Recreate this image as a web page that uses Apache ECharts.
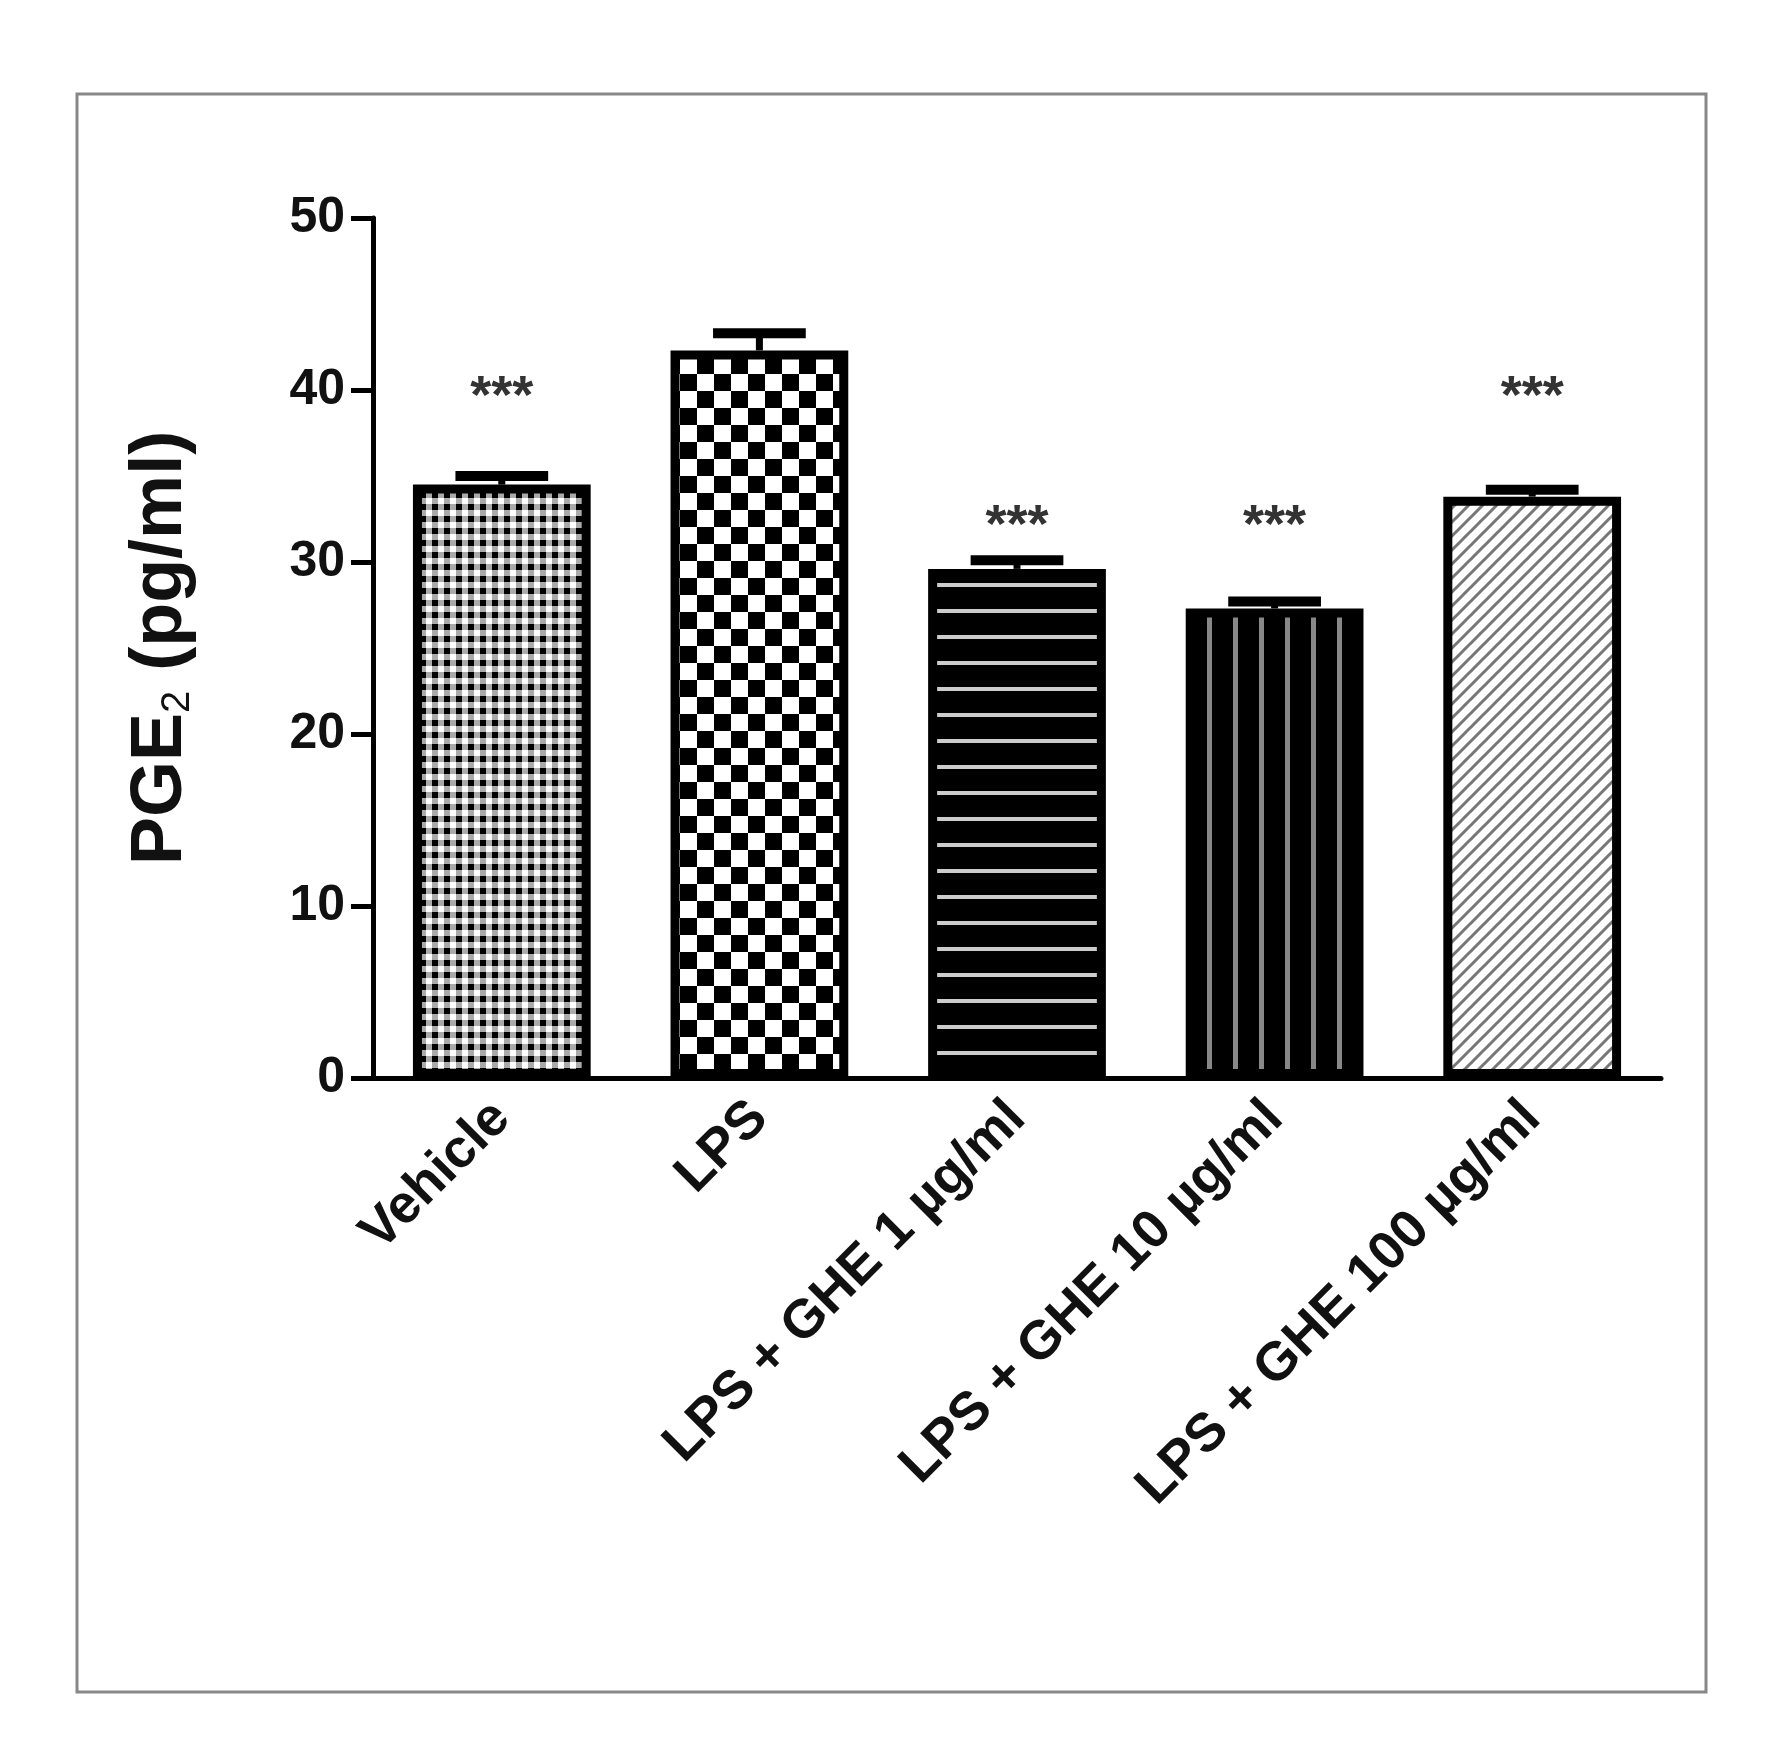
<!DOCTYPE html>
<html>
<head>
<meta charset="utf-8">
<script src="https://cdn.jsdelivr.net/npm/echarts@6/dist/echarts.min.js"></script>
<style>html,body{margin:0;background:#fff}#main{width:1765px;height:1752px}</style>
</head>
<body>
<div id="main"></div>
<script>
var categories = ["Vehicle", "LPS", "LPS + GHE 1 \u00b5g/ml", "LPS + GHE 10 \u00b5g/ml", "LPS + GHE 100 \u00b5g/ml"];
var means = [34.5, 42.3, 29.6, 27.3, 33.8];
var errors = [0.5, 1.0, 0.5, 0.4, 0.4];
var stars = ["***", "", "***", "***", "***"];
var starLevels = [40, 0, 32.5, 32.5, 40];

// 填充图案
function pattern(kind) {
    var c = document.createElement("canvas");
    var ctx = c.getContext("2d");
    if (kind === "fine") {
        c.width = c.height = 12;
        ctx.fillStyle = "#aaa"; ctx.fillRect(0, 0, 12, 12);
        ctx.fillStyle = "#000"; ctx.fillRect(0, 0, 6, 6);
        ctx.fillStyle = "#fff"; ctx.fillRect(6, 6, 6, 6);
    } else if (kind === "checker") {
        c.width = c.height = 34;
        ctx.fillStyle = "#fff"; ctx.fillRect(0, 0, 34, 34);
        ctx.fillStyle = "#000"; ctx.fillRect(0, 0, 17, 17); ctx.fillRect(17, 17, 17, 17);
    } else if (kind === "hlines") {
        c.width = c.height = 26;
        ctx.fillStyle = "#000"; ctx.fillRect(0, 0, 26, 26);
        ctx.fillStyle = "#ccc"; ctx.fillRect(0, 11, 26, 4);
    } else if (kind === "vlines") {
        c.width = c.height = 26;
        ctx.fillStyle = "#000"; ctx.fillRect(0, 0, 26, 26);
        ctx.fillStyle = "#888"; ctx.fillRect(11, 0, 5, 26);
    } else {
        c.width = c.height = 14;
        ctx.fillStyle = "#fff"; ctx.fillRect(0, 0, 14, 14);
        ctx.strokeStyle = "#777"; ctx.lineWidth = 3;
        ctx.beginPath();
        ctx.moveTo(-2, 16); ctx.lineTo(16, -2);
        ctx.moveTo(-9, 9); ctx.lineTo(9, -9);
        ctx.moveTo(5, 23); ctx.lineTo(23, 5);
        ctx.stroke();
    }
    return { image: c, repeat: "repeat" };
}
var fills = ["fine", "checker", "hlines", "vlines", "diag"];

var chart = echarts.init(document.getElementById("main"));
chart.setOption({
    animation: false,
    backgroundColor: "#fff",
    graphic: [{
        type: "rect", shape: { x: 77, y: 94, width: 1629, height: 1598 },
        style: { fill: "none", stroke: "#888", lineWidth: 3 }
    }],
    grid: { left: 373, right: 104, top: 218, bottom: 674, containLabel: false },
    xAxis: {
        type: "category",
        data: categories,
        axisLine: { lineStyle: { color: "#000", width: 5 } },
        axisTick: { alignWithLabel: true, length: 18, lineStyle: { color: "#000", width: 5 } },
        axisLabel: {
            rotate: 45, interval: 0, margin: 32,
            fontFamily: "Liberation Sans, Arial", fontWeight: "bold", fontSize: 54, color: "#111"
        }
    },
    yAxis: {
        type: "value", min: 0, max: 50, interval: 10,
        splitLine: { show: false },
        axisLine: { show: true, lineStyle: { color: "#000", width: 5 } },
        axisTick: { show: true, length: 22, lineStyle: { color: "#000", width: 5 } },
        axisLabel: { fontFamily: "Liberation Sans, Arial", fontWeight: "bold", fontSize: 50, color: "#111", margin: 28 },
        name: "{a|PGE}{s|2}{a| (pg/ml)}",
        nameLocation: "middle", nameGap: 175, nameRotate: 90,
        nameTextStyle: {
            rich: {
                a: { fontFamily: "Liberation Sans, Arial", fontWeight: "bold", fontSize: 72, color: "#111" },
                s: { fontFamily: "Liberation Sans, Arial", fontSize: 40, color: "#111", verticalAlign: "bottom", padding: [34, 0, 0, 0] }
            }
        }
    },
    series: [
        {
            type: "bar",
            barWidth: "69%",
            data: means.map(function (v, i) {
                return { value: v, itemStyle: { color: pattern(fills[i]), borderColor: "#000", borderWidth: 9 } };
            })
        },
        {
            type: "custom",
            data: means.map(function (v, i) { return [i, v, errors[i]]; }),
            renderItem: function (params, api) {
                var top = api.coord([api.value(0), api.value(1) + api.value(2)]);
                var base = api.coord([api.value(0), api.value(1)]);
                var hw = api.size([1, 0])[0] * 0.18;
                return {
                    type: "group",
                    children: [
                        { type: "line", shape: { x1: top[0], y1: top[1], x2: top[0], y2: base[1] }, style: { stroke: "#000", lineWidth: 7 } },
                        { type: "line", shape: { x1: top[0] - hw, y1: top[1], x2: top[0] + hw, y2: top[1] }, style: { stroke: "#000", lineWidth: 10 } }
                    ]
                };
            },
            z: 1
        },
        {
            type: "custom",
            data: starLevels.map(function (v, i) { return [i, v]; }),
            renderItem: function (params, api) {
                var p = api.coord([api.value(0), api.value(1)]);
                return {
                    type: "text",
                    style: {
                        text: stars[params.dataIndex], x: p[0], y: p[1] + 8,
                        align: "center", verticalAlign: "middle",
                        font: "bold 54px Liberation Sans, Arial", fill: "#333"
                    }
                };
            }
        }
    ]
});
</script>
</body>
</html>
